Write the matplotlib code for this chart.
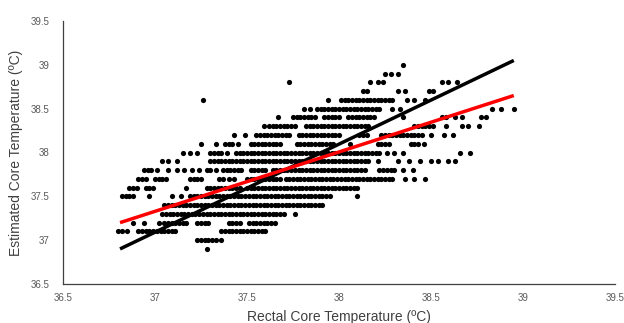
import matplotlib

matplotlib.use("Agg")
import matplotlib.pyplot as plt

plt.rcParams["font.family"] = ["Liberation Sans", "DejaVu Sans"]

# Estimated core temperature levels (0.1 ºC steps) and the rectal readings on each level
est_levels = [36.9, 37.0, 37.1, 37.2, 37.3, 37.4, 37.5, 37.6, 37.7, 37.8, 37.9,
              38.0, 38.1, 38.2, 38.3, 38.4, 38.5, 38.6, 38.7, 38.8, 38.9, 39.0]

row_369 = [37.28]
row_370 = [37.23, 37.25, 37.27, 37.29, 37.31, 37.33, 37.36]
row_371 = [36.80, 36.82, 36.85, 36.91, 36.93, 36.95, 36.97, 36.99, 37.01, 37.03,
           37.05, 37.07, 37.09, 37.11, 37.36, 37.38, 37.40, 37.42, 37.44, 37.46,
           37.48, 37.50, 37.52, 37.54, 37.56, 37.58, 37.60]
row_372 = [36.88, 36.94, 37.02, 37.05, 37.07, 37.09, 37.11, 37.13, 37.15, 37.17,
           37.23, 37.25, 37.27, 37.29, 37.40, 37.42, 37.44, 37.46, 37.51, 37.53,
           37.55, 37.57, 37.59, 37.61, 37.63, 37.65]
row_373 = [37.04, 37.06, 37.08, 37.10, 37.12, 37.14, 37.16, 37.18, 37.20, 37.22,
           37.24, 37.26, 37.28, 37.30, 37.32, 37.34, 37.36, 37.38, 37.40, 37.42,
           37.44, 37.46, 37.48, 37.50, 37.52, 37.54, 37.56, 37.58, 37.60, 37.62,
           37.64, 37.66, 37.68, 37.70, 37.76]
row_374 = [37.05, 37.07, 37.09, 37.11, 37.13, 37.15, 37.17, 37.19, 37.21, 37.23,
           37.25, 37.27, 37.29, 37.31, 37.33, 37.35, 37.37, 37.39, 37.41, 37.43,
           37.45, 37.47, 37.49, 37.51, 37.53, 37.55, 37.57, 37.59, 37.61, 37.63,
           37.65, 37.67, 37.69, 37.71, 37.73, 37.75, 37.77, 37.79, 37.81, 37.83,
           37.85, 37.87, 37.89, 37.91]
row_375 = [36.82, 36.84, 36.86, 36.88, 36.97, 37.09, 37.14, 37.19, 37.21, 37.23,
           37.25, 37.27, 37.29, 37.31, 37.33, 37.35, 37.37, 37.39, 37.41, 37.43,
           37.45, 37.47, 37.49, 37.51, 37.53, 37.55, 37.57, 37.59, 37.61, 37.63,
           37.65, 37.67, 37.69, 37.71, 37.73, 37.75, 37.77, 37.79, 37.81, 37.83,
           37.85, 37.87, 37.89, 37.91, 37.93, 37.95, 38.10]
row_376 = [36.86, 36.88, 36.90, 36.95, 36.97, 36.99, 37.17, 37.28, 37.30, 37.32,
           37.34, 37.36, 37.38, 37.40, 37.42, 37.44, 37.46, 37.50, 37.52, 37.54,
           37.56, 37.58, 37.60, 37.62, 37.64, 37.66, 37.68, 37.70, 37.72, 37.74,
           37.76, 37.78, 37.80, 37.82, 37.84, 37.86, 37.88, 37.90, 37.92, 37.94,
           37.96, 37.98, 38.00, 38.02, 38.04, 38.06, 38.08, 38.10]
row_377 = [36.91, 36.93, 36.95, 37.00, 37.02, 37.04, 37.06, 37.19, 37.21, 37.23,
           37.25, 37.35, 37.37, 37.40, 37.43, 37.50, 37.52, 37.54, 37.56, 37.58,
           37.60, 37.62, 37.64, 37.66, 37.68, 37.71, 37.73, 37.75, 37.77, 37.79,
           37.81, 37.83, 37.85, 37.87, 37.89, 37.91, 37.93, 37.95, 37.97, 37.99,
           38.01, 38.03, 38.05, 38.07, 38.09, 38.11, 38.13, 38.15, 38.17, 38.19,
           38.21, 38.23, 38.25, 38.27, 38.29, 38.36, 38.41, 38.47]
row_378 = [36.94, 36.96, 36.98, 37.01, 37.07, 37.12, 37.16, 37.20, 37.24, 37.28,
           37.30, 37.33, 37.37, 37.39, 37.41, 37.43, 37.45, 37.47, 37.52, 37.54,
           37.56, 37.58, 37.60, 37.64, 37.66, 37.68, 37.70, 37.72, 37.74, 37.76,
           37.78, 37.80, 37.82, 37.84, 37.86, 37.88, 37.90, 37.92, 37.94, 37.96,
           37.98, 38.00, 38.02, 38.04, 38.06, 38.08, 38.10, 38.12, 38.14, 38.22,
           38.24, 38.26, 38.28, 38.30, 38.35, 38.40]
row_379 = [37.04, 37.07, 37.12, 37.30, 37.32, 37.34, 37.36, 37.38, 37.40, 37.42,
           37.44, 37.46, 37.48, 37.50, 37.52, 37.54, 37.56, 37.58, 37.60, 37.62,
           37.64, 37.66, 37.68, 37.70, 37.72, 37.74, 37.76, 37.78, 37.80, 37.82,
           37.84, 37.86, 37.88, 37.90, 37.92, 37.94, 37.96, 37.98, 38.00, 38.02,
           38.04, 38.06, 38.08, 38.10, 38.12, 38.14, 38.16, 38.21, 38.32, 38.38,
           38.44, 38.50, 38.54, 38.59, 38.63]
row_380 = [37.15, 37.19, 37.23, 37.30, 37.32, 37.34, 37.36, 37.39, 37.44, 37.46,
           37.48, 37.50, 37.52, 37.54, 37.56, 37.58, 37.60, 37.62, 37.64, 37.66,
           37.68, 37.70, 37.72, 37.74, 37.76, 37.78, 37.80, 37.82, 37.84, 37.86,
           37.88, 37.90, 37.92, 37.94, 37.96, 37.98, 38.00, 38.02, 38.04, 38.06,
           38.08, 38.10, 38.12, 38.14, 38.16, 38.18, 38.20, 38.22, 38.26, 38.30,
           38.35, 38.66, 38.71]
row_381 = [37.25, 37.33, 37.38, 37.40, 37.42, 37.45, 37.52, 37.54, 37.56, 37.58,
           37.60, 37.62, 37.64, 37.66, 37.68, 37.77, 37.79, 37.81, 37.83, 37.85,
           37.87, 37.89, 37.91, 37.93, 37.95, 37.97, 38.06, 38.21, 38.23, 38.25,
           38.27, 38.39, 38.41, 38.43, 38.46]
row_382 = [37.43, 37.49, 37.55, 37.57, 37.59, 37.61, 37.63, 37.65, 37.67, 37.69,
           37.71, 37.73, 37.78, 37.80, 37.82, 37.84, 37.86, 37.88, 37.90, 37.92,
           37.94, 37.96, 37.98, 38.00, 38.11, 38.13, 38.15, 38.23, 38.25, 38.27,
           38.29, 38.31, 38.33, 38.35, 38.37, 38.39, 38.41, 38.43, 38.45, 38.50,
           38.57, 38.62]
row_383 = [37.59, 37.62, 37.64, 37.66, 37.68, 37.70, 37.72, 37.74, 37.76, 37.82,
           37.84, 37.86, 37.88, 37.90, 37.92, 37.94, 37.96, 37.98, 38.00, 38.02,
           38.04, 38.06, 38.08, 38.10, 38.12, 38.14, 38.16, 38.41, 38.43, 38.45,
           38.47, 38.49, 38.51, 38.58, 38.67, 38.70, 38.76]
row_384 = [37.67, 37.75, 37.77, 37.79, 37.81, 37.83, 37.85, 37.87, 37.92, 37.94,
           37.96, 37.98, 38.00, 38.05, 38.07, 38.09, 38.11, 38.13, 38.15, 38.17,
           38.19, 38.35, 38.56, 38.58, 38.63, 38.67, 38.77, 38.80]
row_385 = [37.81, 37.84, 37.88, 37.90, 37.92, 37.94, 37.96, 37.98, 38.00, 38.02,
           38.04, 38.06, 38.08, 38.10, 38.12, 38.14, 38.16, 38.18, 38.20, 38.22,
           38.29, 38.33, 38.83, 38.88, 38.95]
row_386 = [37.26, 37.94, 38.01, 38.03, 38.05, 38.07, 38.09, 38.11, 38.13, 38.15,
           38.17, 38.19, 38.21, 38.23, 38.25, 38.27, 38.29, 38.37, 38.41, 38.47]
row_387 = [38.13, 38.15, 38.32, 38.36, 38.49, 38.51]
row_388 = [37.73, 38.17, 38.21, 38.24, 38.56, 38.59, 38.64]
row_389 = [38.25, 38.28, 38.32]
row_390 = [38.35]

rectal_rows = [row_369, row_370, row_371, row_372, row_373, row_374, row_375,
               row_376, row_377, row_378, row_379, row_380, row_381, row_382,
               row_383, row_384, row_385, row_386, row_387, row_388, row_389,
               row_390]

# Trend lines (end points as drawn)
fit_x = [36.81, 38.95]
black_fit_y = [36.90, 39.05]
red_fit_y = [37.20, 38.65]

tick_vals = [36.5, 37, 37.5, 38, 38.5, 39, 39.5]
tick_labels = ["36.5", "37", "37.5", "38", "38.5", "39", "39.5"]

fig = plt.figure(figsize=(6.24, 3.23), dpi=100)
ax = fig.add_axes([63 / 624, 39 / 323, 552 / 624, 263 / 323])

xs, ys = [], []
for level, row in zip(est_levels, rectal_rows):
    xs.extend(row)
    ys.extend([level] * len(row))
ax.scatter(xs, ys, s=14, color="black", linewidths=0, zorder=2)

ax.plot(fit_x, black_fit_y, color="black", linewidth=2.5, solid_capstyle="butt", zorder=3)
ax.plot(fit_x, red_fit_y, color="#FF0000", linewidth=2.5, solid_capstyle="butt", zorder=4)

ax.set_xlim(36.5, 39.5)
ax.set_ylim(36.5, 39.5)
ax.set_xticks(tick_vals)
ax.set_xticklabels(tick_labels)
ax.set_yticks(tick_vals)
ax.set_yticklabels(tick_labels)
ax.tick_params(length=0, labelsize=7, labelcolor="#595959")
ax.tick_params(axis="x", pad=6.5)
ax.tick_params(axis="y", pad=10)

for side in ["top", "right"]:
    ax.spines[side].set_visible(False)
for side in ["left", "bottom"]:
    ax.spines[side].set_color("#404040")
    ax.spines[side].set_linewidth(0.9)

ax.set_xlabel("Rectal Core Temperature (ºC)", fontsize=10, color="#404040", labelpad=5)
ax.set_ylabel("Estimated Core Temperature (ºC)", fontsize=10, color="#404040", labelpad=5)

fig.savefig("out.png", dpi=100, facecolor="white")
plt.close(fig)
